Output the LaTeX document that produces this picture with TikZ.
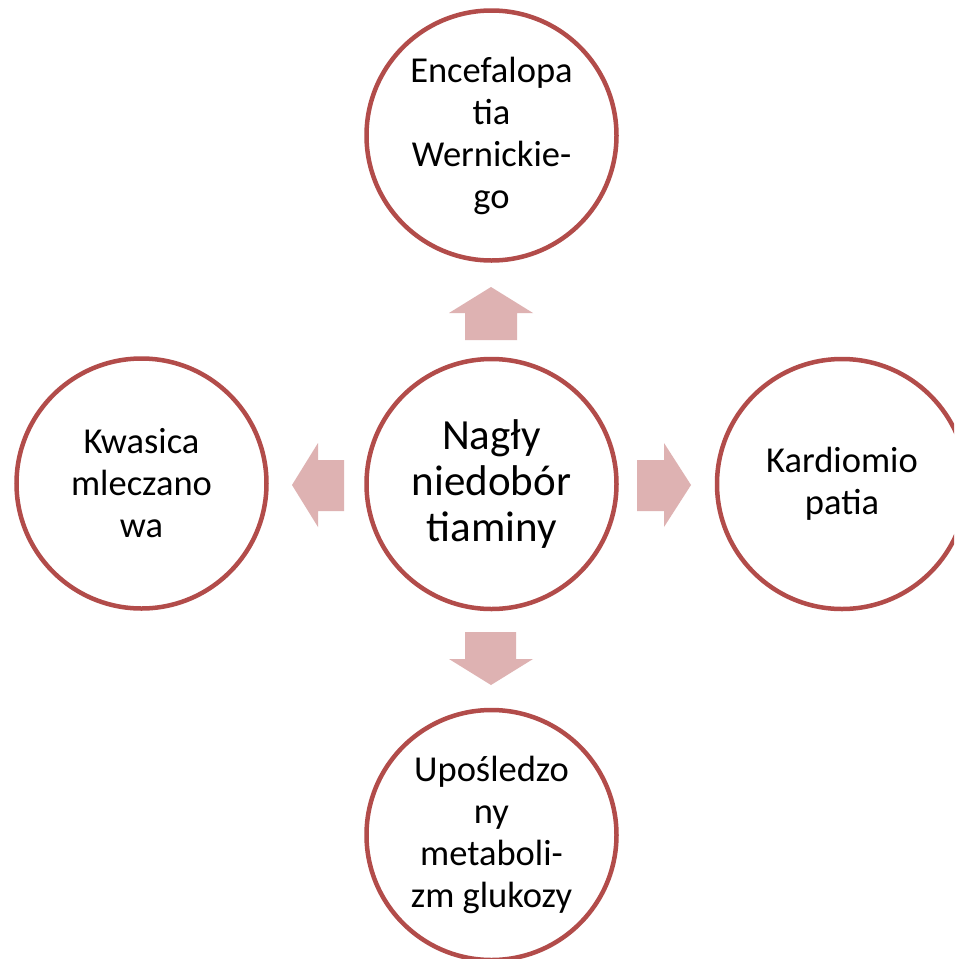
\documentclass[tikz,border=0pt]{standalone}
\usepackage{fontspec}
\setmainfont{Carlito}
\definecolor{ringred}{RGB}{178,76,74}
\definecolor{arrowpink}{RGB}{222,178,178}
\begin{document}
\begin{tikzpicture}[x=1pt,y=-1pt,
  ring/.style={circle, draw=ringred, line width=4.5pt, fill=white, minimum size=250pt, inner sep=0pt, align=center, font=\fontsize{36.5}{42}\selectfont},
  mainring/.style={ring, font=\fontsize{43}{46}\selectfont},
  blockarrow/.style={fill=arrowpink, draw=none}]
\path[use as bounding box, clip] (0,0) rectangle (954,959);
\fill[white] (0,0) rectangle (954,959);
\node[mainring] (center) at (491.5,484) {Nagły\\niedobór\\tiaminy};
\node[ring] (top) at (491.5,135.5) {Encefalopa\\tia\\Wernickie-\\go};
\node[ring] (left) at (141.5,483.5) {Kwasica\\mleczano\\wa};
\node[ring] (right) at (842,484) {Kardiomio\\patia};
\node[ring] (bottom) at (491.5,835) {Upośledzo\\ny\\metaboli-\\zm glukozy};
% block arrows
\fill[blockarrow] (491,287) -- (533,313) -- (517,313) -- (517,340) -- (465,340) -- (465,313) -- (449,313) -- cycle;
\fill[blockarrow] (491,685) -- (533,659) -- (516,659) -- (516,632) -- (465,632) -- (465,659) -- (449,659) -- cycle;
\fill[blockarrow] (292,485) -- (318,443) -- (318,460) -- (344,460) -- (344,511) -- (318,511) -- (318,527) -- cycle;
\fill[blockarrow] (691,485) -- (664,443) -- (664,460) -- (637,460) -- (637,511) -- (664,511) -- (664,527) -- cycle;
\end{tikzpicture}
\end{document}
